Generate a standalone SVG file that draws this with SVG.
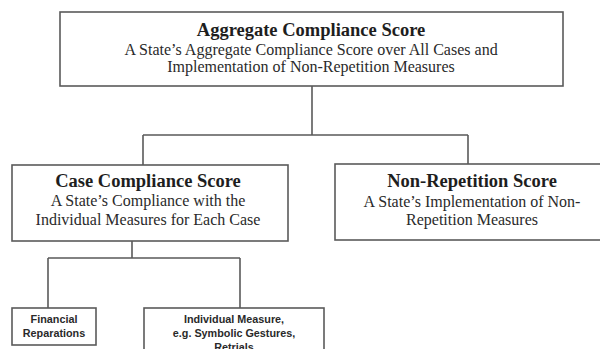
<svg xmlns="http://www.w3.org/2000/svg" width="600" height="349" viewBox="0 0 600 349">
<style>
.box{fill:#fff;stroke:#5a5a5a;stroke-width:1.6}
.conn{fill:none;stroke:#5a5a5a;stroke-width:1.6}
.t{font-family:"Liberation Serif","Times New Roman",serif;font-weight:bold;font-size:18.5px;fill:#1e1e1e;text-anchor:middle}
.s{font-family:"Liberation Serif","Times New Roman",serif;font-size:16px;fill:#2a2a2a;text-anchor:middle}
.n{font-family:"Liberation Sans",Arial,sans-serif;font-weight:bold;font-size:10.8px;fill:#2a2a2a;text-anchor:middle}
</style>
<rect width="600" height="349" fill="#fff"/>
<g id="connectors">
<path class="conn" d="M312 86V135M143 135H468M143 135V165M468 135V164"/>
<path class="conn" d="M132 241V258M48 258H240M48 258V308M240 258V308"/>
</g>
<g id="aggregate">
<rect class="box" x="60" y="12" width="503" height="74"/>
<text class="t" x="311" y="36">Aggregate Compliance Score</text>
<text class="s" x="311" y="55">A State’s Aggregate Compliance Score over All Cases and</text>
<text class="s" x="311" y="72">Implementation of Non-Repetition Measures</text>
</g>
<g id="case">
<rect class="box" x="12" y="165" width="276" height="76"/>
<text class="t" x="148" y="187">Case Compliance Score</text>
<text class="s" x="148" y="206">A State’s Compliance with the</text>
<text class="s" x="148" y="225">Individual Measures for Each Case</text>
</g>
<g id="nonrep">
<rect class="box" x="335" y="164" width="275" height="76"/>
<text class="t" x="472" y="187">Non-Repetition Score</text>
<text class="s" x="472" y="207">A State’s Implementation of Non-</text>
<text class="s" x="472" y="225">Repetition Measures</text>
</g>
<g id="financial">
<rect class="box" x="12" y="308" width="84" height="37"/>
<text class="n" x="54" y="323">Financial</text>
<text class="n" x="54" y="337">Reparations</text>
</g>
<g id="individual">
<rect class="box" x="144" y="308" width="180" height="50"/>
<text class="n" x="234" y="323">Individual Measure,</text>
<text class="n" x="234" y="337">e.g. Symbolic Gestures,</text>
<text class="n" x="234" y="351">Retrials</text>
</g>
</svg>
